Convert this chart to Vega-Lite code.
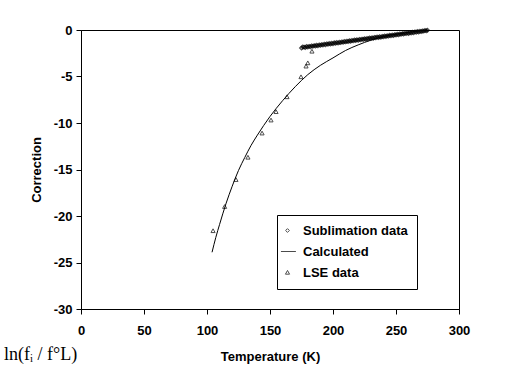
{
  "$schema": "https://vega.github.io/schema/vega-lite/v6.json",
  "width": 378,
  "height": 279,
  "autosize": {"type": "none"},
  "padding": {"left": 81, "top": 30, "right": 64, "bottom": 81},
  "background": "white",
  "config": {
    "view": {"stroke": "black", "strokeWidth": 1},
    "axis": {
      "grid": false,
      "domainColor": "black",
      "tickColor": "black",
      "tickSize": 5,
      "labelFont": "Liberation Sans",
      "labelFontWeight": "bold",
      "labelFontSize": 13,
      "labelColor": "black",
      "titleFont": "Liberation Sans",
      "titleFontWeight": "bold",
      "titleFontSize": 13,
      "titleColor": "black"
    }
  },
  "datasets": {
    "sub": [
      {"series": "Sublimation data", "T": 175, "C": -1.93},
      {"series": "Sublimation data", "T": 176, "C": -1.82},
      {"series": "Sublimation data", "T": 177, "C": -1.84},
      {"series": "Sublimation data", "T": 178, "C": -1.88},
      {"series": "Sublimation data", "T": 179, "C": -1.78},
      {"series": "Sublimation data", "T": 180, "C": -1.83},
      {"series": "Sublimation data", "T": 181, "C": -1.76},
      {"series": "Sublimation data", "T": 182, "C": -1.80},
      {"series": "Sublimation data", "T": 183, "C": -1.71},
      {"series": "Sublimation data", "T": 184, "C": -1.76},
      {"series": "Sublimation data", "T": 185, "C": -1.68},
      {"series": "Sublimation data", "T": 186, "C": -1.72},
      {"series": "Sublimation data", "T": 187, "C": -1.64},
      {"series": "Sublimation data", "T": 188, "C": -1.69},
      {"series": "Sublimation data", "T": 189, "C": -1.60},
      {"series": "Sublimation data", "T": 190, "C": -1.65},
      {"series": "Sublimation data", "T": 191, "C": -1.57},
      {"series": "Sublimation data", "T": 192, "C": -1.62},
      {"series": "Sublimation data", "T": 193, "C": -1.52},
      {"series": "Sublimation data", "T": 194, "C": -1.58},
      {"series": "Sublimation data", "T": 195, "C": -1.49},
      {"series": "Sublimation data", "T": 196, "C": -1.54},
      {"series": "Sublimation data", "T": 197, "C": -1.45},
      {"series": "Sublimation data", "T": 198, "C": -1.50},
      {"series": "Sublimation data", "T": 199, "C": -1.42},
      {"series": "Sublimation data", "T": 200, "C": -1.47},
      {"series": "Sublimation data", "T": 201, "C": -1.38},
      {"series": "Sublimation data", "T": 202, "C": -1.43},
      {"series": "Sublimation data", "T": 203, "C": -1.35},
      {"series": "Sublimation data", "T": 204, "C": -1.40},
      {"series": "Sublimation data", "T": 205, "C": -1.31},
      {"series": "Sublimation data", "T": 206, "C": -1.36},
      {"series": "Sublimation data", "T": 207, "C": -1.28},
      {"series": "Sublimation data", "T": 208, "C": -1.32},
      {"series": "Sublimation data", "T": 209, "C": -1.23},
      {"series": "Sublimation data", "T": 210, "C": -1.28},
      {"series": "Sublimation data", "T": 211, "C": -1.20},
      {"series": "Sublimation data", "T": 212, "C": -1.25},
      {"series": "Sublimation data", "T": 213, "C": -1.16},
      {"series": "Sublimation data", "T": 214, "C": -1.21},
      {"series": "Sublimation data", "T": 215, "C": -1.12},
      {"series": "Sublimation data", "T": 216, "C": -1.17},
      {"series": "Sublimation data", "T": 217, "C": -1.08},
      {"series": "Sublimation data", "T": 218, "C": -1.13},
      {"series": "Sublimation data", "T": 219, "C": -1.05},
      {"series": "Sublimation data", "T": 220, "C": -1.10},
      {"series": "Sublimation data", "T": 221, "C": -1.01},
      {"series": "Sublimation data", "T": 222, "C": -1.06},
      {"series": "Sublimation data", "T": 223, "C": -0.98},
      {"series": "Sublimation data", "T": 224, "C": -1.03},
      {"series": "Sublimation data", "T": 225, "C": -0.94},
      {"series": "Sublimation data", "T": 226, "C": -0.99},
      {"series": "Sublimation data", "T": 227, "C": -0.91},
      {"series": "Sublimation data", "T": 228, "C": -0.95},
      {"series": "Sublimation data", "T": 229, "C": -0.86},
      {"series": "Sublimation data", "T": 230, "C": -0.91},
      {"series": "Sublimation data", "T": 231, "C": -0.83},
      {"series": "Sublimation data", "T": 232, "C": -0.88},
      {"series": "Sublimation data", "T": 233, "C": -0.79},
      {"series": "Sublimation data", "T": 234, "C": -0.84},
      {"series": "Sublimation data", "T": 235, "C": -0.76},
      {"series": "Sublimation data", "T": 236, "C": -0.81},
      {"series": "Sublimation data", "T": 237, "C": -0.72},
      {"series": "Sublimation data", "T": 238, "C": -0.77},
      {"series": "Sublimation data", "T": 239, "C": -0.69},
      {"series": "Sublimation data", "T": 240, "C": -0.73},
      {"series": "Sublimation data", "T": 241, "C": -0.64},
      {"series": "Sublimation data", "T": 242, "C": -0.69},
      {"series": "Sublimation data", "T": 243, "C": -0.61},
      {"series": "Sublimation data", "T": 244, "C": -0.66},
      {"series": "Sublimation data", "T": 245, "C": -0.57},
      {"series": "Sublimation data", "T": 246, "C": -0.62},
      {"series": "Sublimation data", "T": 247, "C": -0.54},
      {"series": "Sublimation data", "T": 248, "C": -0.59},
      {"series": "Sublimation data", "T": 249, "C": -0.50},
      {"series": "Sublimation data", "T": 250, "C": -0.54},
      {"series": "Sublimation data", "T": 251, "C": -0.46},
      {"series": "Sublimation data", "T": 252, "C": -0.51},
      {"series": "Sublimation data", "T": 253, "C": -0.42},
      {"series": "Sublimation data", "T": 254, "C": -0.47},
      {"series": "Sublimation data", "T": 255, "C": -0.39},
      {"series": "Sublimation data", "T": 256, "C": -0.44},
      {"series": "Sublimation data", "T": 257, "C": -0.35},
      {"series": "Sublimation data", "T": 258, "C": -0.39},
      {"series": "Sublimation data", "T": 259, "C": -0.31},
      {"series": "Sublimation data", "T": 260, "C": -0.37},
      {"series": "Sublimation data", "T": 261, "C": -0.28},
      {"series": "Sublimation data", "T": 262, "C": -0.32},
      {"series": "Sublimation data", "T": 263, "C": -0.24},
      {"series": "Sublimation data", "T": 264, "C": -0.29},
      {"series": "Sublimation data", "T": 265, "C": -0.20},
      {"series": "Sublimation data", "T": 266, "C": -0.25},
      {"series": "Sublimation data", "T": 267, "C": -0.17},
      {"series": "Sublimation data", "T": 268, "C": -0.22},
      {"series": "Sublimation data", "T": 269, "C": -0.13},
      {"series": "Sublimation data", "T": 270, "C": -0.17},
      {"series": "Sublimation data", "T": 271, "C": -0.10},
      {"series": "Sublimation data", "T": 272, "C": -0.12},
      {"series": "Sublimation data", "T": 273, "C": -0.05},
      {"series": "Sublimation data", "T": 274, "C": -0.08},
      {"series": "Sublimation data", "T": 275, "C": -0.02}
    ],
    "calc": [
      {"series": "Calculated", "T": 104, "C": -23.9},
      {"series": "Calculated", "T": 107, "C": -22.3},
      {"series": "Calculated", "T": 110, "C": -20.9},
      {"series": "Calculated", "T": 115, "C": -18.7},
      {"series": "Calculated", "T": 120, "C": -16.8},
      {"series": "Calculated", "T": 125, "C": -15.1},
      {"series": "Calculated", "T": 130, "C": -13.7},
      {"series": "Calculated", "T": 135, "C": -12.4},
      {"series": "Calculated", "T": 140, "C": -11.3},
      {"series": "Calculated", "T": 150, "C": -9.3},
      {"series": "Calculated", "T": 160, "C": -7.6},
      {"series": "Calculated", "T": 170, "C": -6.1},
      {"series": "Calculated", "T": 180, "C": -4.8},
      {"series": "Calculated", "T": 190, "C": -3.8},
      {"series": "Calculated", "T": 200, "C": -3.0},
      {"series": "Calculated", "T": 210, "C": -2.2},
      {"series": "Calculated", "T": 220, "C": -1.6},
      {"series": "Calculated", "T": 230, "C": -1.1},
      {"series": "Calculated", "T": 240, "C": -0.7},
      {"series": "Calculated", "T": 250, "C": -0.45},
      {"series": "Calculated", "T": 260, "C": -0.25},
      {"series": "Calculated", "T": 270, "C": -0.08},
      {"series": "Calculated", "T": 275, "C": 0}
    ],
    "lse": [
      {"series": "LSE data", "T": 104.8, "C": -21.6},
      {"series": "LSE data", "T": 114, "C": -19.0},
      {"series": "LSE data", "T": 123, "C": -16.1},
      {"series": "LSE data", "T": 132.5, "C": -13.7},
      {"series": "LSE data", "T": 143.7, "C": -11.1},
      {"series": "LSE data", "T": 150.8, "C": -9.7},
      {"series": "LSE data", "T": 154.8, "C": -8.8},
      {"series": "LSE data", "T": 163.5, "C": -7.2},
      {"series": "LSE data", "T": 174.6, "C": -5.05},
      {"series": "LSE data", "T": 178.6, "C": -3.9},
      {"series": "LSE data", "T": 180, "C": -3.55},
      {"series": "LSE data", "T": 183.3, "C": -2.3}
    ],
    "lbl": [
      {"T": -32, "C": -34.9, "txt": "ln(fᵢ / f°L)"}
    ]
  },
  "encoding": {
    "x": {
      "field": "T", "type": "quantitative",
      "scale": {"domain": [0, 300], "nice": false, "zero": false},
      "axis": {"values": [0, 50, 100, 150, 200, 250, 300], "title": "Temperature (K)", "labelPadding": 10, "titlePadding": 13, "labelFlush": false}
    },
    "y": {
      "field": "C", "type": "quantitative",
      "scale": {"domain": [-30, 0], "nice": false, "zero": false},
      "axis": {"values": [-30, -25, -20, -15, -10, -5, 0], "title": "Correction", "labelExpr": "'' + datum.value", "labelPadding": 4, "titlePadding": 10}
    }
  },
  "layer": [
    {
      "data": {"name": "sub"},
      "mark": {"type": "point", "filled": false, "strokeWidth": 1.2, "size": 14, "clip": false},
      "encoding": {
        "color": {"field": "series", "type": "nominal",
          "scale": {"domain": ["Sublimation data", "Calculated", "LSE data"], "range": ["black", "black", "black"]},
          "legend": {"title": null, "orient": "none", "legendX": 196, "legendY": 185,
            "strokeColor": "black", "fillColor": "white", "padding": 9, "rowPadding": 7,
            "labelFont": "Liberation Sans", "labelFontWeight": "bold", "labelFontSize": 13, "labelColor": "black",
            "symbolStrokeWidth": 1, "symbolSize": 14, "labelOffset": 9, "symbolOffset": -5, "cornerRadius": 0}},
        "shape": {"field": "series", "type": "nominal",
          "scale": {"domain": ["Sublimation data", "Calculated", "LSE data"], "range": ["M0,-1L1,0L0,1L-1,0Z", "M-3.5,0H4.5", "M0,-1.1L1.1,0.9L-1.1,0.9Z"]},
          "legend": {"title": null, "orient": "none", "legendX": 196, "legendY": 185,
            "strokeColor": "black", "fillColor": "white", "padding": 9, "rowPadding": 7,
            "labelFont": "Liberation Sans", "labelFontWeight": "bold", "labelFontSize": 13, "labelColor": "black",
            "symbolStrokeWidth": 1, "symbolSize": 14, "labelOffset": 9, "symbolOffset": -5, "cornerRadius": 0}}
      }
    },
    {
      "data": {"name": "calc"},
      "mark": {"type": "line", "color": "black", "strokeWidth": 1, "interpolate": "monotone"},
      "encoding": {
        "color": {"field": "series", "type": "nominal"}
      }
    },
    {
      "data": {"name": "lse"},
      "mark": {"type": "point", "filled": false, "strokeWidth": 1, "size": 14},
      "encoding": {
        "color": {"field": "series", "type": "nominal"},
        "shape": {"field": "series", "type": "nominal"}
      }
    },
    {
      "data": {"name": "lbl"},
      "mark": {"type": "text", "font": "Liberation Serif", "fontSize": 18, "color": "black", "align": "center", "baseline": "middle"},
      "encoding": {"text": {"field": "txt"}}
    }
  ]
}
